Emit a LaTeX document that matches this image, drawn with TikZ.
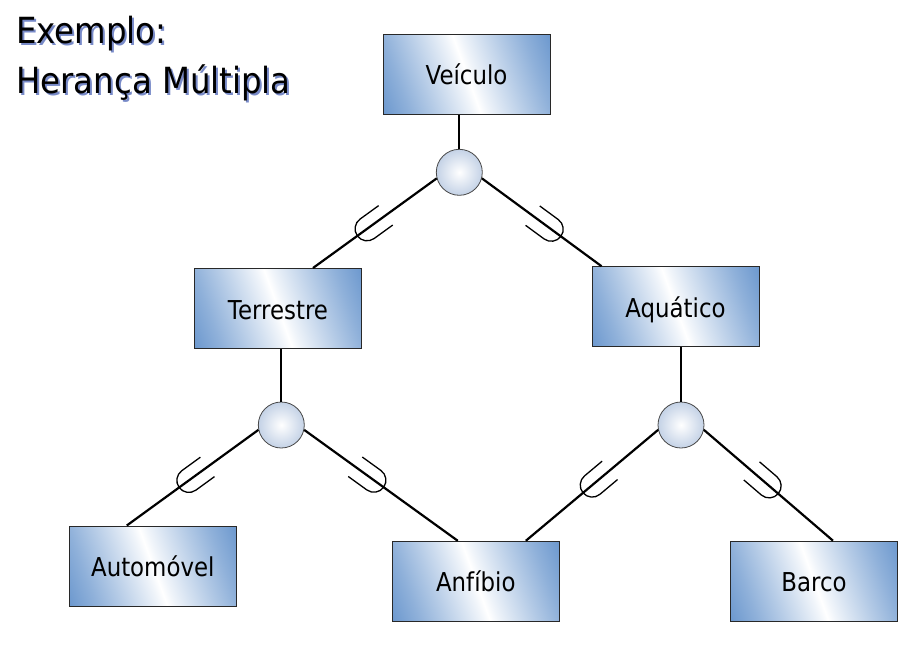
\documentclass[tikz,border=0pt]{standalone}
\usepackage{fontspec}
\setmainfont{DejaVu Sans}[FakeStretch=0.88]
\newfontfamily\titlefont{DejaVu Sans}[FakeStretch=0.9]
\usetikzlibrary{calc,decorations.markings}
\definecolor{boxblue}{RGB}{108,152,206}
\colorlet{boxa}{boxblue!76!white}
\colorlet{boxb}{boxblue!52!white}
\colorlet{boxc}{boxblue!27!white}
\colorlet{boxd}{boxblue!10!white}
\definecolor{circedge}{RGB}{196,210,230}
\definecolor{shadowblue}{RGB}{120,138,200}
\definecolor{edgegray}{RGB}{40,40,40}
\pgfdeclarehorizontalshading{boxshade}{100bp}{color(0bp)=(boxblue); color(25bp)=(boxblue);
  color(32bp)=(boxa); color(38bp)=(boxb); color(44bp)=(boxc); color(48bp)=(boxd);
  color(50bp)=(white); color(52bp)=(boxd); color(56bp)=(boxc); color(62bp)=(boxb);
  color(68bp)=(boxa); color(75bp)=(boxblue); color(100bp)=(boxblue)}
\tikzset{
  entity/.style={draw=edgegray, line width=1pt,
    path picture={
      \begin{scope}[transform canvas={rotate around={20:(path picture bounding box.center)}}]
        \shade[shading=boxshade]
          ($(path picture bounding box.center)+(-92.2pt,-66.2pt)$) rectangle
          ($(path picture bounding box.center)+(92.2pt,66.2pt)$);
      \end{scope}},
    minimum width=167pt, minimum height=80pt, inner sep=0pt, text height=21pt,
    text depth=0pt, font=\fontsize{26}{30}\selectfont},
  gen/.style={circle, draw=edgegray!85, line width=0.8pt, inner color=white,
    outer color=circedge, minimum size=46pt, inner sep=0pt},
  link/.style={line width=2.2pt, draw=black},
  subset/.style={link, postaction={decorate}, decoration={markings,
    mark=at position 63pt with {\draw[line width=1.3pt, black] (0pt,12pt) -- (23pt,12pt)
      arc[start angle=90, end angle=-90, radius=12pt] -- (0pt,-12pt);}}},
  titletext/.style={anchor=base west, inner sep=0pt, font=\titlefont\fontsize{36}{40}\selectfont},
}
\newcommand{\shadowed}[1]{\rlap{\kern2pt\raisebox{-2pt}{\textcolor{shadowblue}{#1}}}#1}
\begin{document}
\begin{tikzpicture}[x=1pt, y=-1pt]
\useasboundingbox (0,0) rectangle (921,649);
% title
\node[titletext] (t1) at (16,43) {\shadowed{Exemplo:}};
\node[titletext] (t2) at (16,93) {\shadowed{Herança Múltipla}};
% entities
\node[entity] (veic) at (466.5,74) {Veículo};
\node[entity] (terr) at (278,308.5) {Terrestre};
\node[entity] (aqua) at (675.5,306.7) {Aquático};
\node[entity] (auto) at (152.8,566) {Automóvel};
\node[entity] (anfi) at (475.8,581.3) {Anfíbio};
\node[entity] (barco) at (814,581.2) {Barco};
% generalisation circles
\node[gen] (g1) at (459.3,172.3) {};
\node[gen] (g2) at (281.3,425) {};
\node[gen] (g3) at (681,425) {};
% connectors
\draw[link] (g1.north) -- (g1.north |- veic.south);
\draw[subset] (g1.195) -- ([xshift=35pt]terr.north);
\draw[subset] (g1.345) -- ([xshift=-74pt]aqua.north);
\draw[link] (g2.north) -- (g2.north |- terr.south);
\draw[subset] (g2.192) -- ([xshift=-26pt]auto.north);
\draw[subset] (g2.348) -- ([xshift=-18pt]anfi.north);
\draw[link] (g3.north) -- (g3.north |- aqua.south);
\draw[subset] (g3.192) -- ([xshift=50pt]anfi.north);
\draw[subset] (g3.348) -- ([xshift=19pt]barco.north);
\end{tikzpicture}
\end{document}
